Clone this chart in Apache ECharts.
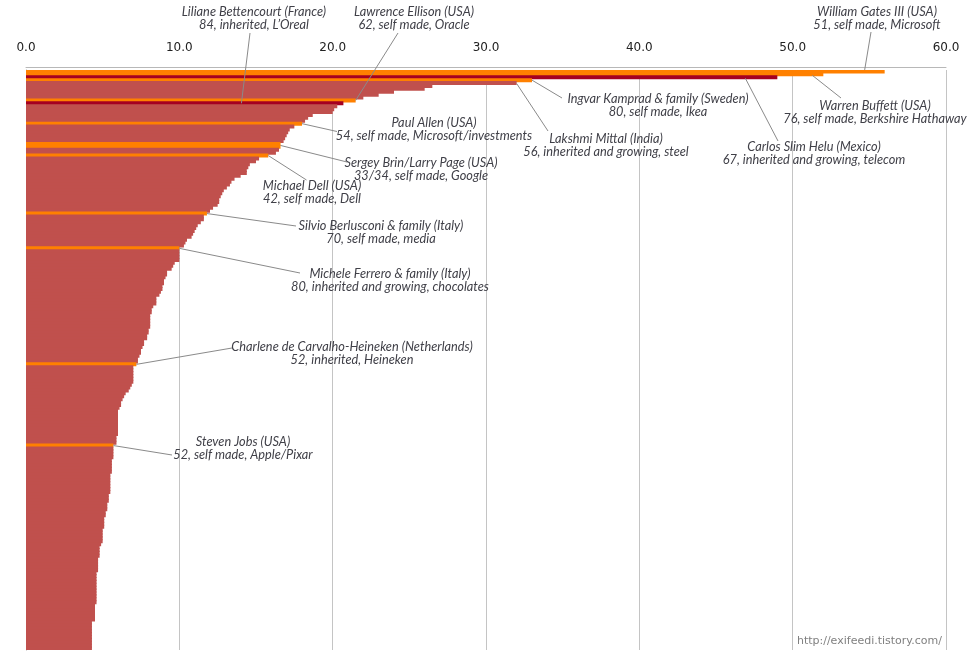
<!DOCTYPE html>
<html>
<head>
<meta charset="utf-8">
<script src="https://cdn.jsdelivr.net/npm/echarts@6/dist/echarts.min.js"></script>
<style>
html,body{margin:0;padding:0;background:#fff;}
#chart{width:978px;height:666px;}
</style>
</head>
<body>
<div id="chart"></div>
<script>
// ---- DATA ----
// Net worth (US$ billions), ranked (top 200)
const values = [
56.0, 52.0, 49.0, 33.0, 32.0, 26.5, 26.0, 24.0, 23.0, 22.0,
21.5, 20.7, 20.3, 20.1, 20.0, 18.7, 18.4, 18.2, 18.0, 17.5,
17.2, 17.1, 17.0, 16.9, 16.8, 16.6, 16.6, 16.5, 16.3, 15.8,
15.2, 15.0, 14.6, 14.5, 14.4, 14.4, 14.0, 13.6, 13.4, 13.3,
13.1, 12.9, 12.8, 12.7, 12.6, 12.6, 12.5, 12.2, 12.0, 11.8,
11.6, 11.6, 11.4, 11.2, 11.1, 11.0, 10.9, 10.8, 10.5, 10.4,
10.3, 10.0, 10.0, 10.0, 10.0, 10.0, 9.7, 9.6, 9.5, 9.2,
9.2, 9.1, 9.0, 9.0, 8.9, 8.9, 8.8, 8.7, 8.5, 8.5,
8.5, 8.3, 8.2, 8.2, 8.1, 8.1, 8.1, 8.1, 8.1, 8.0,
8.0, 7.9, 7.9, 7.7, 7.7, 7.6, 7.5, 7.5, 7.4, 7.3,
7.3, 7.2, 7.0, 7.0, 7.0, 7.0, 7.0, 7.0, 6.9, 6.8,
6.7, 6.5, 6.4, 6.3, 6.2, 6.2, 6.1, 6.0, 6.0, 6.0,
6.0, 6.0, 6.0, 6.0, 6.0, 6.0, 5.9, 5.9, 5.9, 5.7,
5.7, 5.7, 5.7, 5.7, 5.6, 5.6, 5.6, 5.6, 5.6, 5.5,
5.5, 5.5, 5.5, 5.5, 5.5, 5.5, 5.4, 5.4, 5.4, 5.3,
5.3, 5.3, 5.2, 5.2, 5.1, 5.1, 5.1, 5.1, 5.0, 5.0,
5.0, 5.0, 5.0, 4.9, 4.8, 4.8, 4.8, 4.8, 4.7, 4.7,
4.7, 4.7, 4.7, 4.6, 4.6, 4.6, 4.6, 4.6, 4.6, 4.6,
4.6, 4.6, 4.6, 4.6, 4.5, 4.5, 4.5, 4.5, 4.5, 4.5,
4.3, 4.3, 4.3, 4.3, 4.3, 4.3, 4.3, 4.3, 4.3, 4.3
];
const ranks = values.map((v, i) => String(i + 1));

// highlighted bars (indices into values)
const selfMadeBars = [0, 1, 3, 10, 18, 25, 26, 29, 49, 61, 101, 129];
const inheritedBars = [2, 11];

// annotations
const annotIndex = [0, 1, 2, 3, 4, 10, 11, 18, 25, 29, 49, 61, 101, 129];
const annotName = [
  'William Gates III (USA)',
  'Warren Buffett (USA)',
  'Carlos Slim Helu (Mexico)',
  'Ingvar Kamprad & family (Sweden)',
  'Lakshmi Mittal (India)',
  'Lawrence Ellison (USA)',
  'Liliane Bettencourt (France)',
  'Paul Allen (USA)',
  'Sergey Brin/Larry Page (USA)',
  'Michael Dell (USA)',
  'Silvio Berlusconi & family (Italy)',
  'Michele Ferrero & family (Italy)',
  'Charlene de Carvalho-Heineken (Netherlands)',
  'Steven Jobs (USA)'
];
const annotDetail = [
  '51, self made, Microsoft',
  '76, self made, Berkshire Hathaway',
  '67, inherited and growing, telecom',
  '80, self made, Ikea',
  '56, inherited and growing, steel',
  '62, self made, Oracle',
  '84, inherited, L\u2019Oreal',
  '54, self made, Microsoft/investments',
  '33/34, self made, Google',
  '42, self made, Dell',
  '70, self made, media',
  '80, inherited and growing, chocolates',
  '52, inherited, Heineken',
  '52, self made, Apple/Pixar'
];
const tickLabels = ['0.0', '10.0', '20.0', '30.0', '40.0', '50.0', '60.0'];

// ---- LAYOUT / STYLE ----
const COLOR_BASE = '#C0504D';
const COLOR_SELF = '#FF8000';
const COLOR_INH = '#A50021';
const TEXT_FONT = { fontStyle: 'italic', fontFamily: 'Lato', fontSize: 12.75, lineHeight: 13 };
// text block positions (center x, top y) in pixels
const labelAt = [
  [877, 5], [875, 99], [814, 140], [658, 92], [606, 132],
  [414, 5], [254, 5], [434, 116], [421, 156], [312, 179],
  [381, 219], [390, 267], [352, 340], [243, 435]
];
// leader line: text-side end point (pixels) and offset of the bar-side end from the bar tip
const leaderText = [
  [871, 32], [841, 98], [778, 141], [562, 98], [548, 131],
  [398, 33], [250, 33], [337, 131.5], [347, 162], [306.5, 180],
  [296, 226], [300, 273], [232, 348], [172, 455]
];
const leaderBarOffset = [
  [-20, -1.5], [-11, 1], [-32, 1], [0, 0], [0, 0.5],
  [0, 0], [-102, 0], [0, 0], [0, 1.5], [0, 0],
  [0, 0], [0, 0], [0, 0], [0, 0]
];

const data = values.map((v, i) => {
  const item = { value: v };
  if (selfMadeBars.includes(i)) item.itemStyle = { color: COLOR_SELF };
  if (inheritedBars.includes(i)) item.itemStyle = { color: COLOR_INH };
  const a = annotIndex.indexOf(i);
  if (a >= 0) {
    item.label = Object.assign({
      show: true,
      formatter: annotName[a] + '\n' + annotDetail[a],
      color: '#404048',
      align: 'center'
    }, TEXT_FONT);
  }
  return item;
});

const chart = echarts.init(document.getElementById('chart'), null, { renderer: 'canvas' });
chart.setOption({
  animation: false,
  backgroundColor: '#fff',
  grid: { left: 26, right: 32, top: 70, bottom: 16, containLabel: false },
  xAxis: {
    type: 'value',
    position: 'top',
    min: 0, max: 60, interval: 10,
    offset: 3,
    axisLine: { show: true, lineStyle: { color: '#b8b8b8', width: 1 } },
    axisTick: { show: false },
    splitLine: { show: true, lineStyle: { color: '#c4c4c4', width: 1 } },
    axisLabel: {
      margin: 13,
      color: '#222',
      fontFamily: 'DejaVu Sans',
      fontSize: 12,
      formatter: (v) => tickLabels[Math.round(v / 10)]
    }
  },
  yAxis: {
    type: 'category',
    inverse: true,
    data: ranks,
    axisLine: { show: true, lineStyle: { color: '#a8a8a8', width: 1 } },
    axisTick: { show: false },
    axisLabel: { show: false },
    splitLine: { show: false }
  },
  series: [{
    type: 'bar',
    data: data,
    barWidth: 4,
    itemStyle: { color: COLOR_BASE },
    label: { show: false },
    labelLayout: function (p) {
      const a = annotIndex.indexOf(p.dataIndex);
      if (a < 0) return {};
      return { x: labelAt[a][0], y: labelAt[a][1], align: 'center', verticalAlign: 'top' };
    },
    emphasis: { disabled: true },
    silent: true
  }]
});

// leader lines: bar end located through the chart's own scales
const graphics = annotIndex.map((idx, a) => {
  const p = chart.convertToPixel({ xAxisIndex: 0, yAxisIndex: 0 }, [values[idx], ranks[idx]]);
  return {
    type: 'line',
    silent: true,
    z: 100,
    shape: {
      x1: p[0] + leaderBarOffset[a][0], y1: p[1] + leaderBarOffset[a][1],
      x2: leaderText[a][0], y2: leaderText[a][1]
    },
    style: { stroke: '#8a8a8a', lineWidth: 1 }
  };
});
graphics.push({
  type: 'text',
  right: 36,
  top: 636,
  style: {
    text: 'http://exifeedi.tistory.com/',
    fill: '#808080',
    font: '11px "DejaVu Sans"'
  }
});
chart.setOption({ graphic: graphics });
</script>
</body>
</html>
